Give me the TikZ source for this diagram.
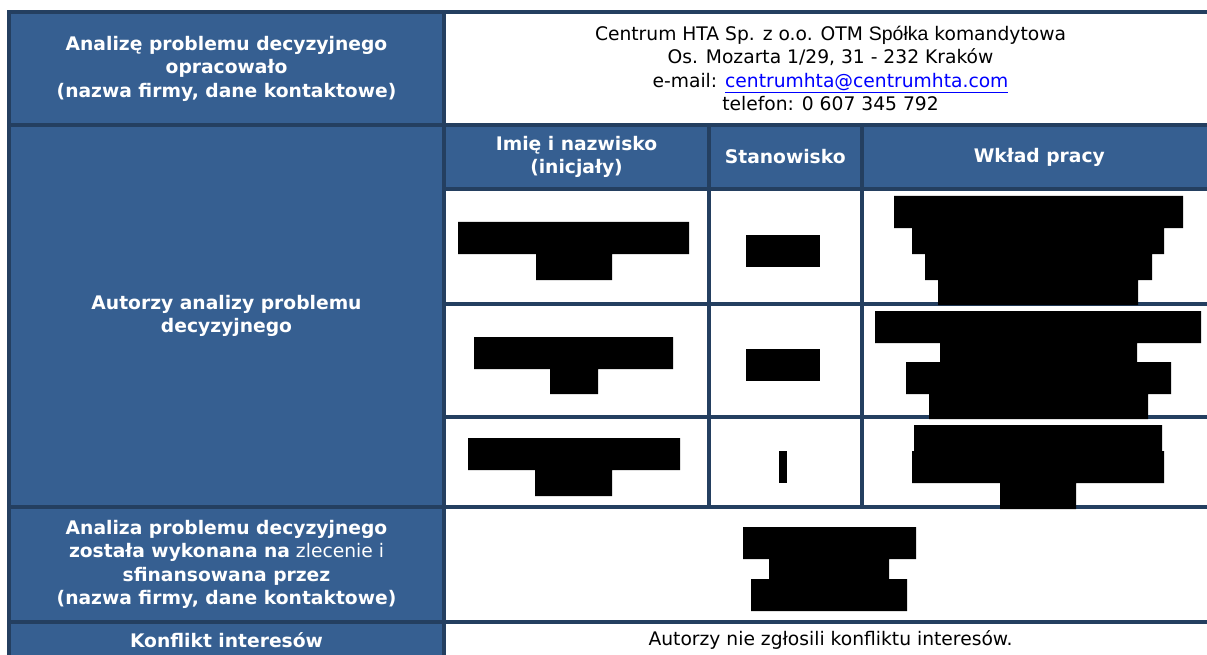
\documentclass[tikz,border=0pt]{standalone}
\usepackage{fontspec}
\usepackage{xcolor}
\usetikzlibrary{positioning}
\newfontfamily\cellfont{DejaVu Sans}
\newfontfamily\arialfont{Liberation Sans}
\definecolor{cellblue}{HTML}{365F91}
\definecolor{ruleblue}{HTML}{243F60}
\definecolor{linkblue}{HTML}{0000FF}
\tikzset{
  table cell/.style 2 args={
    draw=ruleblue,
    line width=4pt,
    minimum width={#1pt},
    minimum height={#2pt},
    inner sep=0pt,
    outer sep=0pt,
    align=center,
    font=\cellfont\fontsize{18.7}{23.5}\selectfont,
  },
  blue cell/.style 2 args={
    table cell={#1}{#2},
    fill=cellblue,
    text=white,
  },
  white cell/.style 2 args={
    table cell={#1}{#2},
    fill=white,
    text=black,
  },
  redacted/.style={
    fill=black,
  }
}

\begin{document}
\begin{tikzpicture}[x=1pt, y=-1pt, node distance=0pt]
        \useasboundingbox (0,0) rectangle (1207,655);
        \clip (0,0) rectangle (1207,655);

        % left column
        \node [blue cell={435}{113}, anchor=north west] (prepared) at (9,12)
              {\textbf{Analizę problemu decyzyjnego}\\\textbf{opracowało}\\\textbf{(nazwa firmy, dane kontaktowe)}};
        \node [blue cell={435}{382}, below=of prepared] (authors)
              {\textbf{Autorzy analizy problemu}\\\textbf{decyzyjnego}};
        \node [blue cell={435}{115}, below=of authors] (funded)
              {\textbf{Analiza problemu decyzyjnego}\\\textbf{została wykonana na} zlecenie i\\\textbf{sfinansowana przez}\\\textbf{(nazwa firmy, dane kontaktowe)}};
        \node [blue cell={435}{36}, below=of funded] (conflict) {\textbf{Konflikt interesów}};

        % right column
        \node [white cell={773}{113}, right=of prepared] (company)
              {Centrum HTA Sp. z o.o. OTM {\arialfont\fontsize{19.5}{23.5}\selectfont Spółka} komandytowa\\
               Os. Mozarta 1/29, 31 - 232 Kraków\\
               e-mail: \textcolor{linkblue}{\underline{centrumhta@centrumhta.com}}\\
               telefon: 0 607 345 792};
        \node [blue cell={265}{64}, anchor=north west] (hname) at (authors.north east)
              {\textbf{Imię i nazwisko}\\\textbf{(inicjały)}};
        \node [blue cell={152.5}{64}, right=of hname] (hpos) {\textbf{Stanowisko}};
        \node [blue cell={355.5}{64}, right=of hpos] (hwork) {\textbf{Wkład pracy}};

        \node [white cell={265}{115}, below=of hname] (name1) {};
        \node [white cell={265}{113}, below=of name1] (name2) {};
        \node [white cell={265}{90}, below=of name2] (name3) {};
        \node [white cell={152.5}{115}, right=of name1] (pos1) {};
        \node [white cell={152.5}{113}, right=of name2] (pos2) {};
        \node [white cell={152.5}{90}, right=of name3] (pos3) {};
        \node [white cell={355.5}{115}, right=of pos1] (work1) {};
        \node [white cell={355.5}{113}, right=of pos2] (work2) {};
        \node [white cell={355.5}{90}, right=of pos3] (work3) {};

        \node [white cell={773}{115}, right=of funded] (sponsor) {};
        \node [white cell={773}{36}, right=of conflict] (noconflict)
              {Autorzy nie zgłosili konfliktu interesów.};

        % blacked-out entries
        \fill [redacted] (458,222) rectangle (689,254) (536,254) rectangle (612,280);
        \fill [redacted] (474,337) rectangle (673,369) (550,369) rectangle (598,394);
        \fill [redacted] (468,438) rectangle (680,470) (535,470) rectangle (612,496);

        \fill [redacted] (746,235) rectangle (820,267);
        \fill [redacted] (746,349) rectangle (820,381);
        \fill [redacted] (779,451) rectangle (787,483);

        \fill [redacted] (894,196) rectangle (1183,228) (912,228) rectangle (1164,254)
                         (925,254) rectangle (1152,280) (938,280) rectangle (1138,305);
        \fill [redacted] (875,311) rectangle (1201,343) (940,343) rectangle (1137,362)
                         (906,362) rectangle (1171,394) (929,394) rectangle (1148,419);
        \fill [redacted] (914,425) rectangle (1162,451) (912,451) rectangle (1164,483)
                         (1000,483) rectangle (1076,509);

        \fill [redacted] (743,527) rectangle (916,559) (769,559) rectangle (889,579)
                         (751,579) rectangle (907,611);
    \end{tikzpicture}
\end{document}
